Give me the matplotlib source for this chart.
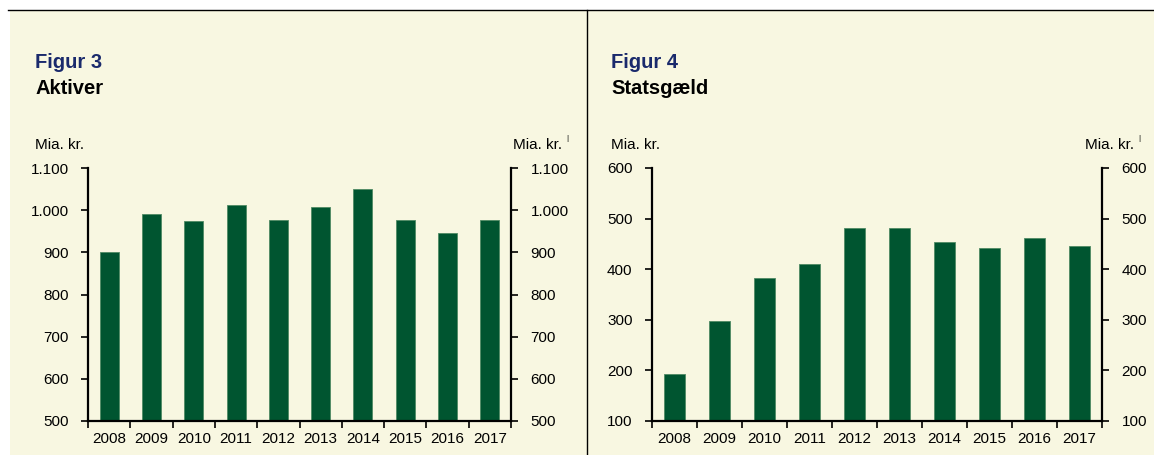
import matplotlib.pyplot as plt
import numpy as np

plt.rcParams['font.family'] = ['Liberation Sans', 'DejaVu Sans']

years = ['2008', '2009', '2010', '2011', '2012', '2013', '2014', '2015', '2016', '2017']
aktiver = [900, 990, 975, 1012, 977, 1008, 1050, 977, 945, 977]
statsgaeld = [193, 298, 383, 410, 481, 481, 453, 441, 462, 446]

bg = '#f8f7e1'
green = '#005530'
navy = '#1a2a6c'

W, H = 1154, 455
fig = plt.figure(figsize=(W / 100, H / 100), dpi=100)
fig.patch.set_facecolor('white')

# baggrund og rammer
fig.add_artist(plt.Rectangle((10 / W, 0), 1 - 10 / W, 1 - 11 / H, transform=fig.transFigure,
                             facecolor=bg, edgecolor='none', zorder=-10))
fig.add_artist(plt.Line2D([8 / W, 1], [1 - 10 / H, 1 - 10 / H], color='black', lw=1))
fig.add_artist(plt.Line2D([587 / W, 587 / W], [0, 1 - 10 / H], color='black', lw=1))


def panel(x0, x1, values, ylim, yticks, fmt, nr, title, txt_left, txt_right):
    ax = fig.add_axes([x0 / W, 1 - 421 / H, (x1 - x0) / W, (421 - 168) / H])
    ax.set_facecolor('none')
    ax.set_zorder(5)
    x = np.arange(len(values))
    ax.bar(x, values, 0.45, color=green, edgecolor='#4f8a63', linewidth=0.6, zorder=2)
    ax.set_xlim(-0.5, len(values) - 0.5)
    ax.set_ylim(*ylim)
    ax.set_yticks(yticks)
    ax.set_yticklabels([fmt(v) for v in yticks])
    ax.set_xticks(x)
    ax.set_xticklabels(years)
    ax.set_xticks(np.arange(len(values) + 1) - 0.5, minor=True)
    ax.tick_params(axis='x', which='major', length=0, pad=8, labelsize=11)
    ax.tick_params(axis='x', which='minor', length=5, width=1.2, direction='out')
    ax.tick_params(axis='y', length=5, width=1.2, direction='out', labelsize=11, pad=9,
                   left=True, right=True, labelleft=True, labelright=True)
    for s in ['left', 'right', 'bottom']:
        ax.spines[s].set_linewidth(1.6)
    ax.spines['top'].set_visible(False)

    fig.text(txt_left / W, 1 - 62 / H, 'Figur ' + nr, color=navy, fontsize=14.5,
             fontweight='bold', va='center')
    fig.text(txt_left / W, 1 - 88 / H, title, color='black', fontsize=14.5,
             fontweight='bold', va='center')
    fig.text(txt_left / W, 1 - 145 / H, 'Mia. kr.', fontsize=11, va='center')
    fig.text(txt_right / W, 1 - 145 / H, 'Mia. kr.', fontsize=11, va='center', ha='right')
    fig.text((txt_right + 4) / W, 1 - 139 / H, '|', fontsize=6, va='center', ha='left')
    return ax


panel(88, 511, aktiver, (500, 1100), np.arange(500, 1101, 100),
      lambda v: f'{v:,}'.replace(',', '.'), '3', 'Aktiver', 35, 562)
panel(652, 1102, statsgaeld, (100, 600), np.arange(100, 601, 100),
      lambda v: str(v), '4', 'Statsgæld', 611, 1134)

fig.savefig('out.png', dpi=100, facecolor=fig.get_facecolor())
